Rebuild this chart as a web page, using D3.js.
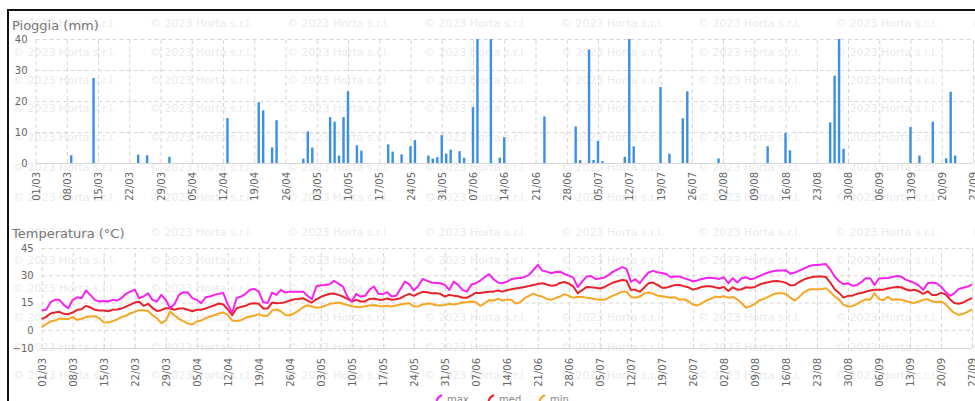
<!DOCTYPE html>
<html><head><meta charset="utf-8">
<script src="https://cdn.jsdelivr.net/npm/d3@7"></script>
<style>
body{margin:0;background:#fff;overflow:hidden}
svg{display:block;font-family:"DejaVu Sans",Verdana,sans-serif}
</style>
</head><body>
<svg id="chart" width="975" height="401"></svg>
<script>
// ---------- DATA ----------
const startDay = "2023-03-01";
const endDay = "2023-09-27";

const rainDates = ["2023-03-09","2023-03-14","2023-03-24","2023-03-26","2023-03-31","2023-04-13","2023-04-20","2023-04-21","2023-04-23","2023-04-24","2023-04-30","2023-05-01","2023-05-02","2023-05-06","2023-05-07","2023-05-08","2023-05-09","2023-05-10","2023-05-12","2023-05-13","2023-05-19","2023-05-20","2023-05-22","2023-05-24","2023-05-25","2023-05-28","2023-05-29","2023-05-30","2023-05-31","2023-06-01","2023-06-02","2023-06-04","2023-06-05","2023-06-07","2023-06-08","2023-06-11","2023-06-13","2023-06-14","2023-06-23","2023-06-30","2023-07-01","2023-07-03","2023-07-04","2023-07-05","2023-07-06","2023-07-11","2023-07-12","2023-07-13","2023-07-19","2023-07-21","2023-07-24","2023-07-25","2023-08-01","2023-08-12","2023-08-16","2023-08-17","2023-08-26","2023-08-27","2023-08-28","2023-08-29","2023-09-13","2023-09-15","2023-09-18","2023-09-21","2023-09-22","2023-09-23"];
const rainValues = [2.5,27.4,2.7,2.5,2,14.5,19.6,17,5,13.8,1.4,10.2,5,14.8,13.3,2.4,14.8,23.1,5.7,4,6,3.7,2.8,5.4,7.4,2.4,1.4,1.9,9,3,4.3,3.8,1.7,18,40,40,1.7,8.3,15,11.8,1,36.6,1,7.1,0.6,2,40,5.4,24.5,3,14.4,23.1,1.5,5.4,9.7,4.1,13.1,28.2,40,4.6,11.6,2.4,13.3,1.5,23,2.4];

// daily temperatures from 01/03 to 27/09
const tempMax = [10.6,11.0,15.2,16.5,16.5,13.7,11.9,16.5,17.9,17.4,
21.6,19.2,16.5,15.6,15.9,15.6,16.5,16.1,17.4,19.8,
21.0,22.1,17.4,18.3,20.1,16.5,15.6,19.2,16.5,11.9,
14.3,19.2,20.7,20.5,17.4,16.5,14.6,17.9,18.3,19.2,
19.9,20.2,14.0,9.5,17.4,18.3,19.8,22.0,22.5,21.0,
15.2,14.8,20.5,19.2,22.0,20.5,21.0,21.0,21.0,21.0,
18.7,16.8,23.8,24.5,24.7,25.1,26.9,25.4,23.8,18.3,
15.6,19.8,18.3,18.7,22.0,23.8,19.8,19.6,20.7,18.3,
18.7,22.5,26.5,25.0,21.6,24.1,28.0,26.9,26.0,25.8,
25.6,24.7,22.0,26.5,24.7,22.0,21.0,24.9,25.6,27.1,
28.9,30.6,27.8,26.0,25.6,26.5,27.8,28.4,28.5,29.1,
30.2,32.9,35.7,32.6,32.0,31.1,31.8,32.0,30.7,29.8,
28.7,23.5,26.5,29.3,29.6,28.0,28.2,28.7,30.2,32.0,
33.3,34.5,33.5,26.5,27.8,25.6,28.9,31.5,32.4,31.6,
31.3,30.7,28.9,29.3,29.3,28.4,27.6,26.7,27.1,28.0,
28.5,28.7,28.4,28.0,28.9,25.6,28.4,26.0,28.4,28.9,
27.8,28.4,29.5,30.6,31.5,32.2,32.6,32.6,32.7,30.8,
31.5,32.6,33.7,34.8,35.5,35.7,35.9,36.2,33.3,29.3,
26.7,25.1,25.6,24.3,24.5,26.2,28.4,28.4,24.7,28.2,
28.4,28.5,29.1,29.6,29.3,27.6,26.7,25.8,24.3,22.0,
25.6,26.0,25.6,23.8,21.0,18.7,20.1,22.5,23.1,23.8,24.9];
const tempMed = [5.9,7.1,9.0,9.5,9.9,8.8,8.6,9.5,11.0,11.3,
13.2,12.3,11.0,10.6,10.6,10.2,11.0,11.2,11.7,12.8,
13.9,15.0,15.4,13.2,14.3,12.1,10.4,10.8,11.9,11.7,
11.0,11.7,11.7,11.0,10.2,11.0,11.0,11.7,12.6,13.5,
14.5,13.9,11.3,8.0,11.9,12.6,13.2,14.3,14.6,14.3,
11.7,11.7,15.0,14.6,14.8,15.2,16.1,16.8,17.0,17.4,
16.1,15.0,16.8,18.1,19.0,19.8,20.0,19.2,18.3,17.0,
15.6,16.5,15.6,15.6,17.0,17.2,16.6,16.5,17.2,16.5,
16.8,17.4,18.8,19.8,18.7,19.9,20.9,20.7,20.1,20.1,
19.8,18.3,19.2,18.8,18.5,17.7,17.7,19.0,20.3,20.3,
20.7,21.0,21.0,21.6,21.0,21.8,22.3,22.7,23.1,23.6,
24.1,24.7,25.2,25.6,24.9,24.3,24.5,25.8,26.3,25.4,
23.8,20.1,21.8,23.6,23.4,23.1,22.7,23.4,24.9,26.0,
26.7,27.4,27.1,22.0,22.0,21.0,23.2,25.6,26.0,24.7,
23.2,23.2,24.0,24.7,24.7,24.0,23.4,22.1,22.7,23.6,
24.0,24.0,23.4,22.9,23.6,21.4,23.4,22.1,22.3,23.4,
23.1,23.6,24.9,25.6,26.2,26.7,26.9,26.5,25.8,24.5,
24.7,26.3,27.6,28.5,29.1,29.3,29.3,29.1,26.0,22.3,
20.3,17.7,18.7,18.8,19.8,20.3,20.9,21.6,22.0,22.0,
22.1,22.7,23.2,23.6,23.4,22.3,21.6,22.0,21.2,19.8,
21.2,19.2,19.2,20.3,19.6,16.8,14.8,14.3,15.0,16.3,17.4];
const tempMin = [1.5,3.1,4.6,5.1,6.2,5.9,5.9,7.1,5.5,6.0,
7.0,7.3,7.5,6.4,4.2,4.0,4.8,5.7,7.0,7.7,
9.0,9.9,10.8,10.8,10.4,8.0,6.4,3.7,5.1,10.1,
7.9,6.0,4.6,3.5,2.9,4.6,5.1,6.4,7.3,8.0,
9.0,9.5,8.2,5.1,4.8,5.3,6.6,7.3,7.7,8.6,
7.7,7.7,10.6,11.2,10.2,8.2,8.0,9.1,10.6,12.4,
13.5,12.8,12.1,12.4,13.2,14.3,14.6,15.0,14.3,13.7,
13.0,12.6,12.6,13.0,13.4,13.7,13.2,12.8,13.2,12.8,
13.4,13.9,14.3,14.6,12.8,13.0,13.9,14.5,14.3,13.5,
13.4,13.7,14.3,13.9,14.3,15.0,15.2,15.6,15.2,13.2,
14.6,16.3,16.1,17.2,16.1,16.5,16.5,14.5,15.2,17.4,
18.7,19.9,18.8,18.3,17.0,16.5,17.4,18.3,19.6,18.7,
17.6,18.1,18.1,17.7,17.4,16.8,16.5,16.5,17.7,18.8,
19.9,20.9,21.0,18.1,17.6,18.3,19.9,20.5,19.9,18.8,
18.5,18.1,17.6,17.9,16.5,16.8,15.7,13.9,13.4,14.5,
16.1,17.0,18.3,17.9,18.5,17.6,18.1,16.8,14.6,12.1,
13.0,14.3,16.3,17.0,18.1,19.4,20.1,20.1,19.9,17.7,
16.1,18.1,20.5,22.0,22.3,22.3,22.5,22.9,20.9,18.3,
16.6,13.7,12.8,13.0,14.1,15.6,16.8,16.5,20.1,16.8,
16.3,18.1,16.5,16.8,16.5,15.9,15.2,14.8,15.6,16.5,
16.8,15.7,15.2,15.6,14.1,11.5,9.3,8.2,8.8,9.9,11.2];

const rainTicks = [0, 10, 20, 30, 40];
const tempTicks = [-10, 0, 15, 30, 45];
const seriesNames = ["max", "med", "min"];
const seriesColors = ["#f522f0", "#e8222b", "#f6a623"];
const rainTitle = "Pioggia (mm)";
const tempTitle = "Temperatura (°C)";
const watermark = "© 2023 Horta s.r.l.";

// ---------- DRAW ----------
const svg = d3.select("#chart");
const parse = d3.utcParse("%Y-%m-%d");
const t0 = parse(startDay), t1 = parse(endDay);
const days = d3.utcDay.range(t0, d3.utcDay.offset(t1, 1));
const weekTicks = d3.utcDay.range(t0, d3.utcDay.offset(t1, 1), 7);
const fmt = d3.utcFormat("%d/%m");
const grey = "#666";

// watermark tiles
const wm = svg.append("g").attr("fill", "#ebebeb").attr("font-size", 11);
const wmRows = [27, 56, 84, 112, 141, 171, 201, 236, 264, 292, 321, 351, 379];
wmRows.forEach(y => {
  for (let x = 13; x < 975; x += 137) wm.append("text").attr("x", x).attr("y", y).text(watermark);
});

// frame
svg.append("rect").attr("x", 8).attr("y", 10).attr("width", 980).attr("height", 400)
  .attr("fill", "none").attr("stroke", "#111").attr("stroke-width", 2);

function panel(opts) {
  const { x, y, ticks, title, titleY, labelOffset } = opts;
  const g = svg.append("g");
  const [xl, xr] = x.range();
  const [yb, yt] = y.range();
  // y axis with gridlines
  const ya = g.append("g").attr("transform", `translate(${xl},0)`)
    .call(d3.axisLeft(y).tickValues(ticks).tickSize(-(xr - xl)).tickPadding(8));
  ya.select(".domain").remove();
  ya.selectAll("line").attr("stroke", "#d6d6d6")
    .attr("stroke-dasharray", (d, i) => i === 0 ? null : "4,3");
  ya.selectAll("text").attr("fill", grey).attr("font-size", 10).attr("font-family", "DejaVu Sans, Verdana, sans-serif");
  // x axis with gridlines
  const xa = g.append("g").attr("transform", `translate(0,${yb})`)
    .call(d3.axisBottom(x).tickValues(weekTicks).tickFormat(fmt).tickSize(-(yb - yt)));
  xa.select(".domain").remove();
  xa.selectAll("line").attr("stroke", "#d6d6d6").attr("stroke-dasharray", "4,3");
  xa.selectAll("text").attr("fill", grey).attr("font-size", 10).attr("font-family", "DejaVu Sans, Verdana, sans-serif")
    .attr("transform", "rotate(-90)").attr("text-anchor", "end")
    .attr("x", -labelOffset).attr("y", 0).attr("dy", "0.35em");
  g.append("text").attr("x", 12).attr("y", titleY).attr("fill", "#777").attr("font-size", 13).text(title);
  return g;
}

// --- rain panel ---
const x1 = d3.scaleUtc().domain([t0, t1]).range([35.5, 973]);
const y1 = d3.scaleLinear().domain([0, 40]).range([163, 39]);
const p1 = panel({ x: x1, y: y1, ticks: rainTicks, title: rainTitle, titleY: 30, labelOffset: 9 });
svg.append("clipPath").attr("id", "clipRain").append("rect")
  .attr("x", 30).attr("y", y1(40)).attr("width", 950).attr("height", y1(0) - y1(40));
p1.append("g").attr("clip-path", "url(#clipRain)").selectAll("rect")
  .data(rainDates.map((d, i) => ({ date: parse(d), v: rainValues[i] })))
  .join("rect")
  .attr("x", d => x1(d.date) - 1.2).attr("width", 2.4)
  .attr("y", d => y1(d.v)).attr("height", d => y1(0) - y1(d.v))
  .attr("fill", "#3b8fe8");

// --- temperature panel ---
const x2 = d3.scaleUtc().domain([t0, t1]).range([41.7, 972]);
const y2 = d3.scaleLinear().domain([-10, 45]).range([348, 248]);
const p2 = panel({ x: x2, y: y2, ticks: tempTicks, title: tempTitle, titleY: 238, labelOffset: 10 });
const series = [tempMax, tempMed, tempMin];
const line = d3.line().x((d, i) => x2(days[i])).y(d => y2(d));
[2, 1, 0].forEach(k => {
  p2.append("path").datum(series[k]).attr("d", line)
    .attr("fill", "none").attr("stroke", seriesColors[k]).attr("stroke-width", 2)
    .attr("stroke-linejoin", "round");
});

// legend
const legX = [437, 489, 540];
const leg = svg.append("g");
seriesNames.forEach((n, i) => {
  const lx = legX[i];
  leg.append("path").attr("d", `M${lx + 5},395 Q${lx - 3},399 ${lx + 1},407`)
    .attr("fill", "none").attr("stroke", seriesColors[i]).attr("stroke-width", 2);
  leg.append("text").attr("x", lx + 10).attr("y", 403).attr("fill", "#888").attr("font-size", 10).text(n);
});
</script>
</body></html>
